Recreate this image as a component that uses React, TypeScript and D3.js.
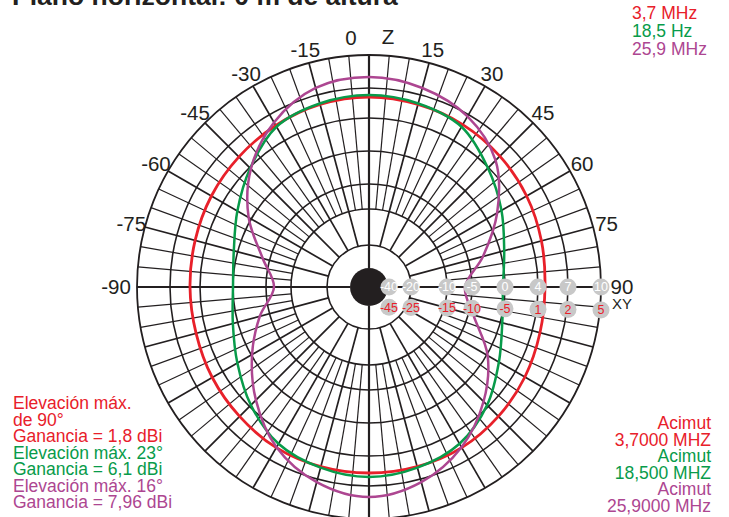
import { useMemo } from 'react';
import * as d3 from 'd3';

const W = 729;
const H = 517;

/* ── scale labels (gain rings) ── */
const ringLabelsTop = [-40, -20, -10, -5, 0, 4, 7, 10];
const ringLabelsBottom = [-45, -25, -15, -10, -5, 1, 2, 5];
const ringRadii = [20, 42, 78, 103, 136, 169, 199, 232];
const gridRings = [-20, -10, -5, 0, 4, 7, 10];

/* ── angle labels ── */
const angleTicks = [-90, -75, -60, -45, -30, -15, 0, 15, 30, 45, 60, 75, 90];

/* ── pattern data: angle (deg, 0 = Z up, 90 = XY right) and gain on top-row scale ── */
const angles = [0, 15, 30, 45, 60, 75, 90, 105, 120, 135, 150, 165, 180, 195, 210, 225, 240, 255, 270, 285, 300, 315, 330, 345];
const red37 = [6.1, 6.0, 5.85, 5.6, 5.3, 4.95, 4.7, 4.8, 5.1, 5.4, 5.65, 5.7, 5.7, 5.7, 5.65, 5.4, 5.2, 5.0, 5.0, 5.1, 5.3, 5.5, 5.75, 6.0];
const green185 = [6.3, 6.1, 5.6, 3.9, 2.06, 0.48, -0.3, 0.24, 1.7, 3.76, 5.2, 5.8, 6.1, 5.8, 5.2, 3.76, 1.94, 0.6, 0, 0.48, 1.94, 3.88, 5.6, 6.1];
const magenta259 = [8.0, 7.64, 6.8, 5.0, 1.45, -2.73, -6.4, -4.24, 0.12, 3.15, 5.6, 7.27, 8.0, 7.27, 5.6, 2.9, -0.15, -3.48, -6.6, -3.94, 0.36, 3.76, 6.1, 7.64];

const topLegend = ['3,7 MHz', '18,5 Hz', '25,9 MHz'];
const leftNotes = [
  ['Elevación máx.', 0], ['de 90°', 0], ['Ganancia = 1,8 dBi', 0],
  ['Elevación máx. 23°', 1], ['Ganancia = 6,1 dBi', 1],
  ['Elevación máx. 16°', 2], ['Ganancia = 7,96 dBi', 2],
];
const rightNotes = [
  ['Acimut', 0], ['3,7000 MHZ', 0], ['Acimut', 1], ['18,500 MHZ', 1],
  ['Acimut', 2], ['25,9000 MHz', 2],
];

const COLORS = ['#e8202a', '#089b4a', '#ad4691'];
const FONT = 'Arial, "Liberation Sans", Helvetica, sans-serif';

export default function App() {
  const cx = 369, cy = 287;
  const R = 232;

  const r = useMemo(() => d3.scaleLinear().domain(ringLabelsTop).range(ringRadii), []);
  const toRad = (deg: number) => (deg * Math.PI) / 180;
  const pt = (deg: number, rad: number): [number, number] =>
    [cx + rad * Math.sin(toRad(deg)), cy - rad * Math.cos(toRad(deg))];

  const radial = d3.lineRadial<number>()
    .angle((_, i) => toRad(angles[i]))
    .radius(d => r(d))
    .curve(d3.curveCatmullRomClosed.alpha(0.5));

  const series = [red37, green185, magenta259];

  // radial grid lines
  const spokes: { a: number; r0: number; w: number }[] = [];
  for (let a = 0; a < 360; a += 5) {
    if (a % 90 === 0) spokes.push({ a, r0: 19, w: 2.2 });
    else if (a % 15 === 0) spokes.push({ a, r0: r(-20), w: 1.7 });
    else spokes.push({ a, r0: r(-10), w: 1.2 });
  }

  return (
    <svg width={W} height={H} style={{ position: 'absolute', left: 0, top: 0, background: '#fff' }}
      fontFamily={FONT}>
      {/* title */}
      <text x={12} y={5} fontSize={26.5} fontWeight="bold" fill="#231f20">Plano horizontal: 0 m de altura</text>

      {/* legend top right */}
      {topLegend.map((t, i) => (
        <text key={t} x={632} y={19 + i * 18} fontSize={17.5} fill={COLORS[i]}>{t}</text>
      ))}

      {/* rings */}
      <g fill="none" stroke="#231f20">
        {gridRings.map(v => (
          <circle key={v} cx={cx} cy={cy} r={r(v)} strokeWidth={v === 10 ? 1.8 : 1.6} />
        ))}
        {spokes.map(s => {
          const [x0, y0] = pt(s.a, s.r0);
          const [x1, y1] = pt(s.a, R);
          return <line key={s.a} x1={x0} y1={y0} x2={x1} y2={y1} strokeWidth={s.w} />;
        })}
      </g>

      {/* patterns */}
      <g transform={`translate(${cx},${cy})`} fill="none">
        {series.map((s, i) => (
          <path key={i} d={radial(s) ?? ''} stroke={COLORS[i]} strokeWidth={i === 0 ? 2.8 : 2.5} />
        ))}
      </g>

      {/* center disc */}
      <circle cx={cx} cy={cy} r={19} fill="#231f20" />

      {/* scale labels */}
      {ringLabelsTop.map((v, i) => {
        const x = cx + r(v);
        const y2 = cy + 20 + (r(v) / R) * 3;
        return (
          <g key={i} fontSize={12.5}>
            <circle cx={x} cy={cy} r={8.5} fill="#c8c8c8" />
            <text x={x} y={cy} dy="0.35em" textAnchor="middle" fill="#fff">{v}</text>
            <circle cx={x} cy={y2} r={8.5} fill="#c8c8c8" />
            <text x={x} y={y2} dy="0.35em" textAnchor="middle" fill={COLORS[0]}>{ringLabelsBottom[i]}</text>
          </g>
        );
      })}

      {/* angle labels */}
      {angleTicks.map(a => {
        if (a === 0) return null;
        const rl = Math.abs(a) === 90 ? 253 : 246;
        const [x, y] = pt(a, rl);
        return (
          <text key={a} x={x} y={y} dy="0.36em" textAnchor="middle" fontSize={20.5} fill="#231f20">{a}</text>
        );
      })}
      <text x={cx - 18} y={cy - 249} dy="0.36em" textAnchor="middle" fontSize={20.5} fill="#231f20">0</text>
      <text x={cx + 19} y={cy - 250} dy="0.36em" textAnchor="middle" fontSize={20.5} fill="#231f20">Z</text>
      <text x={622} y={cy + 17} dy="0.36em" textAnchor="middle" fontSize={15} fill="#231f20">XY</text>

      {/* notes */}
      {leftNotes.map(([t, c], i) => (
        <text key={i} x={13} y={409 + i * 16.5} fontSize={17.5} fill={COLORS[c as number]}>{t}</text>
      ))}
      {rightNotes.map(([t, c], i) => (
        <text key={i} x={711} y={429 + i * 16.6} textAnchor="end" fontSize={17.5} fill={COLORS[c as number]}>{t}</text>
      ))}
    </svg>
  );
}
